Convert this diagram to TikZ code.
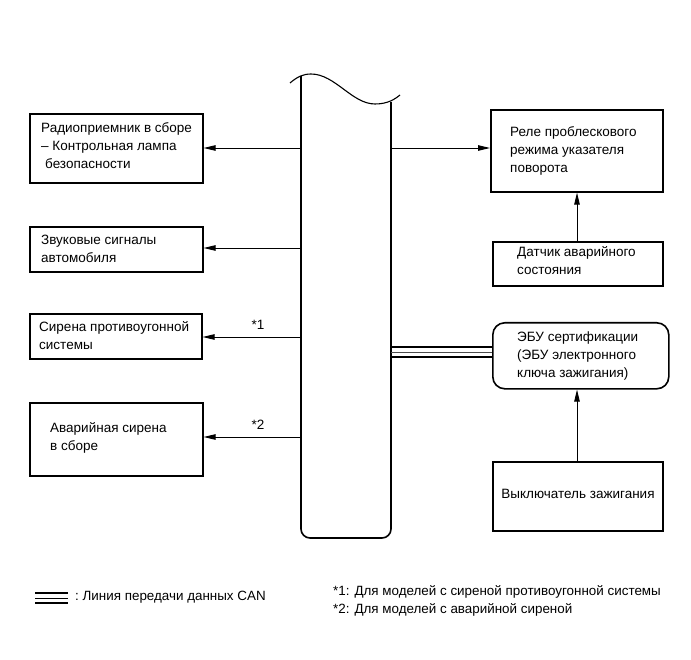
\documentclass[tikz,border=0pt]{standalone}
\usepackage{fontspec}
\setmainfont{Liberation Sans}
\usetikzlibrary{arrows.meta}
\tikzset{
  box/.style={draw, line width=1.6pt, inner sep=0pt, anchor=north west},
  txt/.style={inner sep=0pt, anchor=west, align=left, font=\fontsize{13.5}{18}\selectfont},
  note/.style={inner sep=0pt, anchor=west, font=\fontsize{13.4}{18}\selectfont},
  arr/.style={line width=0.9pt, -{Triangle[length=12pt,width=5.5pt]}},
  barline/.style={line width=1.6pt},
  canline/.style={line width=1.5pt},
}
\begin{document}
\begin{tikzpicture}[x=1pt,y=-1pt]
\useasboundingbox (0,0) rectangle (691,660);
% boxes
\node[box, minimum width=173pt, minimum height=69pt] (radio) at (29,113) {};
\node[box, minimum width=173pt, minimum height=45pt] (horn) at (29,226) {};
\node[box, minimum width=172pt, minimum height=45pt] (theft) at (29,313) {};
\node[box, minimum width=173pt, minimum height=73pt] (alarm) at (29,402) {};
\node[box, minimum width=172pt, minimum height=82pt] (relay) at (490,109) {};
\node[box, minimum width=170pt, minimum height=44pt] (hazard) at (492,241) {};
\node[box, rounded corners=12pt, minimum width=176pt, minimum height=66pt] (ecu) at (492,322) {};
\node[box, minimum width=170pt, minimum height=69pt] (ign) at (492,461) {};
% texts
\node[txt] (tradio) at (41,146) {Радиоприемник в сборе\\– Контрольная лампа\\\hspace*{4pt}безопасности};
\node[txt] (thorn) at (41,248.5) {Звуковые сигналы\\автомобиля};
\node[txt] (ttheft) at (39,336) {Сирена противоугонной\\системы};
\node[txt] (talarm) at (50,437.5) {Аварийная сирена\\в сборе};
\node[txt] (trelay) at (510,150.5) {Реле проблескового\\режима указателя\\поворота};
\node[txt] (thazard) at (517,261) {Датчик аварийного\\состояния};
\node[txt] (tecu) at (517,356.5) {ЭБУ сертификации\\(ЭБУ электронного\\ключа зажигания)};
\node[txt, anchor=center] (tign) at (578,494) {Выключатель зажигания};
% central bar
\draw[barline, rounded corners=9pt] (301,76) -- (301,538) -- (391,538) -- (391,102);
\draw[line width=1.1pt] (290,83) .. controls (297,77) and (303,74) .. (311,74)
  .. controls (335,74) and (352,104) .. (375,104)
  .. controls (388,104) and (395,99) .. (400,95);
% bar points
\coordinate (b1) at (301,148);
\coordinate (b2) at (301,248);
\coordinate (b3) at (301,337);
\coordinate (b4) at (301,437);
\coordinate (b5) at (391,148);
\coordinate (b6) at (391,352);
% connectors
\draw[arr] (b1) -- (b1 -| radio.east);
\draw[arr] (b2) -- (b2 -| horn.east);
\draw[arr] (b3) -- (b3 -| theft.east);
\draw[arr] (b4) -- (b4 -| alarm.east);
\draw[arr] (b5) -- (b5 -| relay.west);
\coordinate (h1) at (577,0);
\draw[arr] (h1 |- hazard.north) -- (h1 |- relay.south);
\draw[arr] (h1 |- ign.north) -- (h1 |- ecu.south);
% CAN line
\draw[canline] ([yshift=-5pt]b6) -- ([yshift=-5pt]b6 -| ecu.west);
\draw[canline] ([yshift=5pt]b6) -- ([yshift=5pt]b6 -| ecu.west);
\draw[line width=0.7pt, black!70] (b6) -- (b6 -| ecu.west);
% labels
\node[txt, anchor=center] (s1) at (258,325) {*1};
\node[txt, anchor=center] (s2) at (258,425) {*2};
% legend
\coordinate (la) at (35,598);
\coordinate (lb) at (68,598);
\draw[canline] ([yshift=-5pt]la) -- ([yshift=-5pt]lb);
\draw[canline] ([yshift=5pt]la) -- ([yshift=5pt]lb);
\draw[line width=1pt] (la) -- (lb);
\node[note] (leg) at (75,597.5) {:\ Линия передачи данных CAN};
\node[note] (n1) at (333,591.5) {*1: Для моделей с сиреной противоугонной системы};
\node[note] (n2) at (333,609.5) {*2: Для моделей с аварийной сиреной};
\end{tikzpicture}
\end{document}
